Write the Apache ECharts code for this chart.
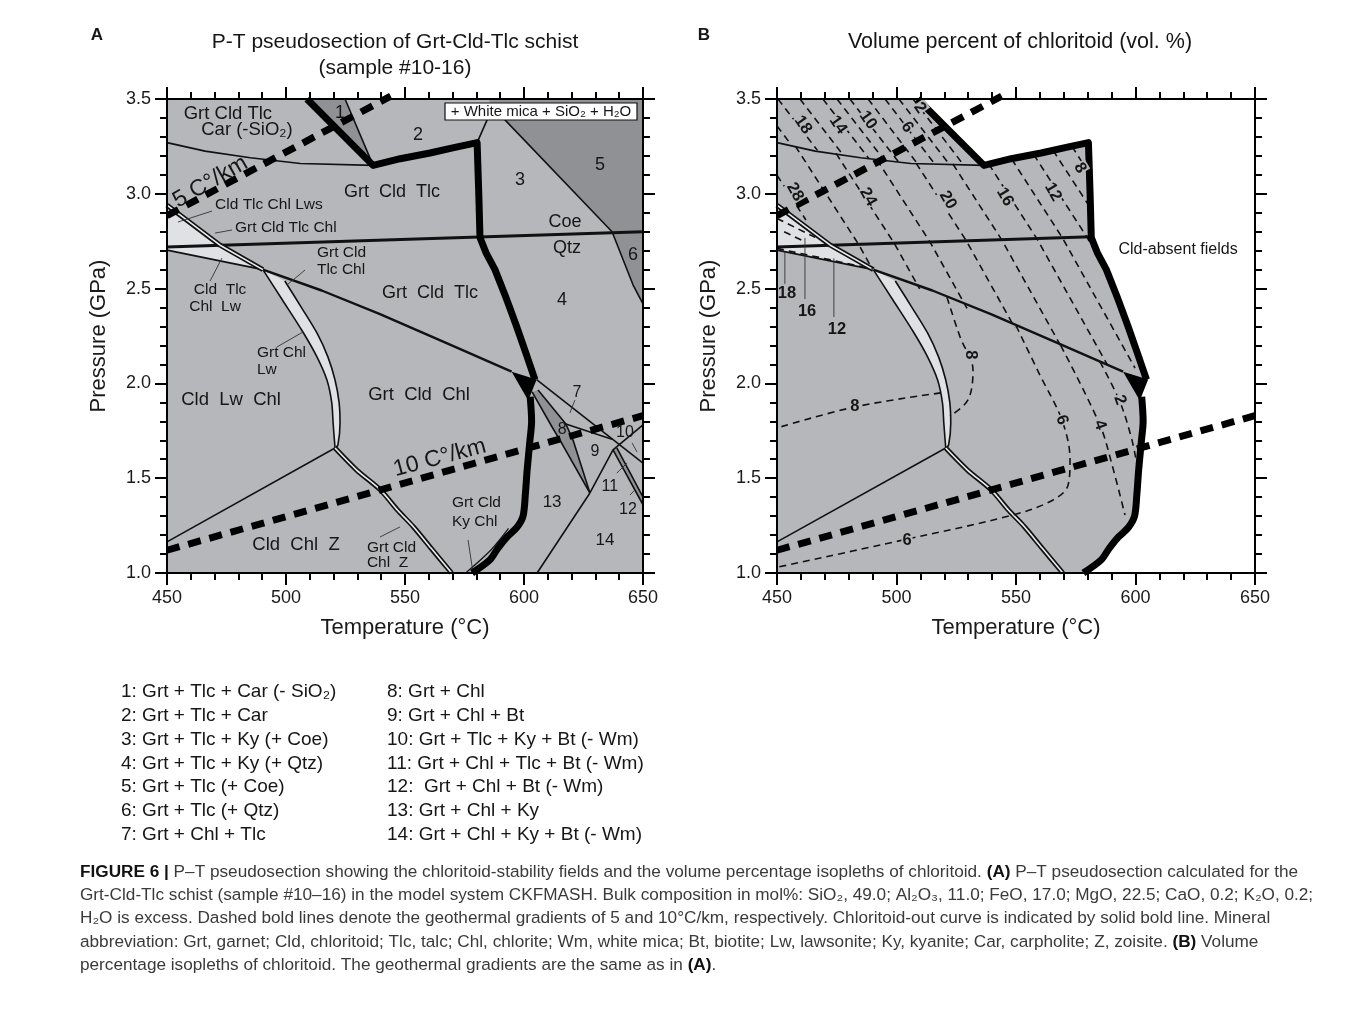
<!DOCTYPE html>
<html><head><meta charset="utf-8">
<script src="https://cdn.jsdelivr.net/npm/echarts@6/dist/echarts.min.js"></script>
<style>html,body{margin:0;padding:0;background:#fff}#c{width:1357px;height:1017px}</style>
</head><body><div id="c"></div>
<script>
const FONT = '"Liberation Sans", Arial, Helvetica, sans-serif';
const GRAY = '#b5b7ba', DARK = '#8f9194', LIGHT = '#e0e1e5', INK = '#111';

// ---------- axes ----------
const tempRange = [450, 650], tempStep = 50;
const presRange = [1.0, 3.5], presStep = 0.5;

// ---------- phase boundaries [T (°C), P (GPa)] ----------
const plotFrame = [[450,1.0],[650,1.0],[650,3.5],[450,3.5]];
const carCurve = [[450,3.27],[466,3.225],[485,3.19],[506,3.16],[536.6,3.15]];
const cldOutUpper = [[508.8,3.5],[536.6,3.15],[548,3.185],[560.5,3.215],[571,3.245],[580.3,3.27],[581,3.0],[581.5,2.77],[584,2.69],[587.8,2.60],[592.5,2.45],[596.9,2.30],[600.8,2.16],[604.6,2.02]];
const cldOutTip = [[594.8,2.062],[605.3,2.02],[601.8,1.91]];
const cldOutLower = [[602.6,1.93],[603.2,1.80],[602.5,1.70],[601.3,1.54],[600.6,1.42],[599.6,1.30],[597,1.24],[592.9,1.19],[589,1.13],[585.7,1.07],[578.2,1.0]];
const region1 = [[508.8,3.5],[524.8,3.5],[536.6,3.15]];
const line1Bound = [[524.8,3.5],[536.6,3.15]];
const line2to3 = [[580.3,3.27],[584.5,3.39],[587,3.45]];
const line3to5 = [[587,3.45],[592,3.39],[637,2.80]];
const region5 = [[585,3.5],[650,3.5],[650,2.80],[637,2.80],[592,3.39],[587,3.45]];
const coeQtzA = [[450,2.72],[650,2.80]];
const coeQtzB = [[450,2.72],[581.5,2.773]];
const line4to6 = [[637,2.80],[645.8,2.52],[650,2.42]];
const region6 = [[637,2.80],[650,2.80],[650,2.42],[645.8,2.52]];
const lwsBoundary = [[450,2.94],[472.3,2.729],[490.3,2.60]];
const lensLeft = [[490.3,2.60],[498.5,2.44],[507.1,2.271],[513,2.14],[517.2,2.018],[519.2,1.90],[519.8,1.79],[520.6,1.659]];
const lensRight = [[499.5,2.54],[506.5,2.40],[513,2.266],[517.6,2.14],[520.6,2.018],[522.3,1.90],[522.7,1.79],[521.8,1.675],[520.6,1.659]];
const lwsTri = [[450,2.94],[472.3,2.729],[450,2.72]];
const lwWedge = [[450,2.72],[472.3,2.729],[490.3,2.60],[450,2.703]];
const lwLower = [[450,2.703],[490.3,2.60]];
const longLine = [[490.3,2.60],[515,2.49],[539.5,2.365],[567,2.215],[594.8,2.062]];
const lowerLeft = [[520.6,1.659],[450,1.164]];
const zoisiteDouble = [[520.6,1.659],[529.7,1.543],[539.5,1.44],[547,1.33],[553.5,1.244],[561,1.13],[569.6,1.0]];
const line7Upper = [[605.3,2.02],[650,1.58]];
const line8Left = [[603.4,1.955],[611.8,1.770],[615.1,1.701],[627.7,1.422]];
const line8Right = [[605.9,1.965],[617.6,1.786],[620.6,1.701],[627.7,1.422]];
const line7Lower = [[617.6,1.786],[629,1.738],[637,1.705]];
const line9to13 = [[627.7,1.422],[637.4,1.649],[650,1.781]];
const line11 = [[637.4,1.649],[650,1.36]];
const line12 = [[639,1.66],[650,1.40]];
const region12 = [[637.4,1.649],[639,1.66],[650,1.40],[650,1.36]];
const line13to14 = [[627.7,1.422],[605.5,1.0]];
const kySliver = [[593.5,1.235],[586,1.12],[575.5,1.0]];

// geothermal gradients
const geotherm5 = [[450,2.885],[544,3.515]];
const geotherm10 = [[450,1.12],[650,1.83]];

// leader lines (panel A)
const leadersA = [
  [[468.9,2.909],[454.6,2.851]],
  [[477.3,2.809],[470.2,2.793]],
  [[508,2.598],[500.4,2.519]],
  [[468.1,2.54],[473.1,2.661]],
  [[496.2,2.192],[507.1,2.271]],
  [[621.4,1.912],[619.3,1.844]],
  [[576.5,1.174],[578.6,1.0]],
  [[539.5,1.19],[547.9,1.243]],
  [[639,1.527],[643.3,1.58]],
  [[644.5,1.411],[646.6,1.438]],
  [[645.4,1.686],[647.5,1.638]]
];

// ---------- chloritoid isopleths (vol.%) panel B ----------
const isoAboveCar = [
  [[450,3.358],[456.2,3.254]],
  [[450.4,3.5],[466.9,3.229]],
  [[459.6,3.5],[477.6,3.205]],
  [[469.2,3.5],[488.5,3.185]],
  [[475.1,3.5],[494.9,3.177]],
  [[480.5,3.5],[500.8,3.169]],
  [[488.1,3.5],[508.7,3.159]],
  [[495.2,3.5],[516.0,3.157]],
  [[501.0,3.5],[522.0,3.157]],
  [[506.9,3.5],[527.9,3.155]]
];
const isoBand = [
  [[450,3.098],[462.1,2.862]],
  [[457.7,3.251],[484.2,2.732],[490.0,2.600]],
  [[474.7,3.213],[499.1,2.738],[509.7,2.498]],
  [[491.8,3.180],[514.1,2.744],[529.5,2.396]],
  [[508.2,3.162],[529.3,2.750],[549.5,2.293]],
  [[523.6,3.157],[544.1,2.756],[568.9,2.194]],
  [[538.6,3.157],[558.8,2.762],[588.3,2.096]],
  [[548.2,3.183],[569.5,2.766],[599.8,2.081]],
  [[557.4,3.207],[579.7,2.771],[587.4,2.596]],
  [[565.5,3.229],[580.6,2.936]],
  [[573.4,3.25],[580.3,3.115]]
];
const isoWedge = [
  [[450,2.87],[466,2.77]],
  [[450,2.712],[486,2.615]],
  [[453,2.80],[462,2.745]]
];
const iso8Right = [[521.1,2.455],[526.6,2.245],[532.0,2.071],[529.9,1.913],[522.4,1.828]];
const iso8Left = [[518.5,1.95],[482.6,1.876],[450,1.765]];
const iso6 = [[550.0,2.305],[560.0,2.044],[569.2,1.807],[572.6,1.596],[571.8,1.464],[565.5,1.385],[548.7,1.306],[502.7,1.174],[450,1.03]];
const iso4 = [[568.7,2.20],[585.1,1.781],[590.2,1.570],[595.6,1.306]];
const iso2 = [[585.1,2.115],[593.5,1.902],[598.5,1.702],[600.6,1.570]];
const leadersB = [
  [[453.3,2.693],[453.3,2.525]],
  [[461.7,2.767],[461.7,2.445]],
  [[473.8,2.66],[473.8,2.35]]
];

// ---------- text labels [T, P, text, size, rotation°, align] ----------
const labelsA = [
  [475.6,3.421,'Grt Cld Tlc',18.5],
  [483.6,3.336,'Car (-SiO₂)',18.5],
  [522.7,3.426,'1',18],
  [555.5,3.31,'2',18],
  [598.3,3.073,'3',18],
  [631.9,3.152,'5',18],
  [544.5,3.009,'Grt  Cld  Tlc',18],
  [617.2,2.851,'Coe',18],
  [618.1,2.714,'Qtz',18],
  [645.8,2.677,'6',18],
  [470.2,2.941,'Cld Tlc Chl Lws',15.5,0,'left'],
  [478.6,2.82,'Grt Cld Tlc Chl',15.5,0,'left'],
  [513.0,2.688,'Grt Cld',15.5,0,'left'],
  [513.0,2.598,'Tlc Chl',15.5,0,'left'],
  [472.3,2.493,'Cld  Tlc',15.5],
  [470.2,2.403,'Chl  Lw',15.5],
  [560.5,2.477,'Grt  Cld  Tlc',18],
  [616.0,2.44,'4',18],
  [487.8,2.16,'Grt Chl',15.5,0,'left'],
  [487.8,2.07,'Lw',15.5,0,'left'],
  [476.9,1.912,'Cld  Lw  Chl',18.5],
  [555.9,1.939,'Grt  Cld  Chl',18.5],
  [622.3,1.949,'7',16],
  [616,1.754,'8',16],
  [629.8,1.638,'9',16],
  [642.4,1.738,'10',16],
  [636.1,1.454,'11',16],
  [643.7,1.332,'12',16],
  [611.8,1.374,'13',17],
  [634,1.174,'14',17],
  [569.7,1.369,'Grt Cld',15.5,0,'left'],
  [569.7,1.269,'Ky Chl',15.5,0,'left'],
  [504.2,1.148,'Cld  Chl  Z',18.5],
  [534.0,1.132,'Grt Cld',15.5,0,'left'],
  [534.0,1.053,'Chl  Z',15.5,0,'left'],
  [468.2,3.062,'5 C°/km',23,30],
  [564.6,1.607,'10 C°/km',23,15]
];
const isoLabelsB = [
  [460.9,3.363,'18',16.5,-55],[475.5,3.363,'14',16.5,-55],[488.1,3.389,'10',16.5,-55],
  [504.4,3.352,'6',16.5,-55],[509.8,3.453,'2',16.5,-55],
  [457.5,3.010,'28',16.5,-60],[488.1,2.983,'24',16.5,-60],[521.5,2.967,'20',16.5,-60],
  [545.4,2.983,'16',16.5,-60],[565.5,3.010,'12',16.5,-60],[576.8,3.136,'8',16.5,-60],
  [454.2,2.477,'18',16.5,0],[462.6,2.377,'16',16.5,0],[475.1,2.282,'12',16.5,0],
  [530.8,2.15,'8',16.5,-90],[482.6,1.876,'8',16.5,0],[504.4,1.174,'6',16.5,0],
  [569.2,1.807,'6',16.5,-70],[585.1,1.781,'4',16.5,-70],[593.5,1.913,'2',16.5,-70]
];
const labelsB = [
  [617.8,2.704,'Cld-absent fields',16]
];
const legendLeft = ['1: Grt + Tlc + Car (- SiO₂)','2: Grt + Tlc + Car','3: Grt + Tlc + Ky (+ Coe)','4: Grt + Tlc + Ky (+ Qtz)','5: Grt + Tlc (+ Coe)','6: Grt + Tlc (+ Qtz)','7: Grt + Chl + Tlc'];
const legendRight = ['8: Grt + Chl','9: Grt + Chl + Bt','10: Grt + Tlc + Ky + Bt (- Wm)','11: Grt + Chl + Tlc + Bt (- Wm)','12:  Grt + Chl + Bt (- Wm)','13: Grt + Chl + Ky','14: Grt + Chl + Ky + Bt (- Wm)'];
const captionLines = [
  '{b|FIGURE 6 |} P–T pseudosection showing the chloritoid-stability fields and the volume percentage isopleths of chloritoid. {b|(A)} P–T pseudosection calculated for the',
  'Grt-Cld-Tlc schist (sample #10–16) in the model system CKFMASH. Bulk composition in mol%: SiO₂, 49.0; Al₂O₃, 11.0; FeO, 17.0; MgO, 22.5; CaO, 0.2; K₂O, 0.2;',
  'H₂O is excess. Dashed bold lines denote the geothermal gradients of 5 and 10°C/km, respectively. Chloritoid-out curve is indicated by solid bold line. Mineral',
  'abbreviation: Grt, garnet; Cld, chloritoid; Tlc, talc; Chl, chlorite; Wm, white mica; Bt, biotite; Lw, lawsonite; Ky, kyanite; Car, carpholite; Z, zoisite. {b|(B)} Volume',
  'percentage isopleths of chloritoid. The geothermal gradients are the same as in {b|(A)}.'
];

// ---------- build ----------
const series = [];
const AX_A = {x:0, y:0}, AX_B = {x:2, y:2};
function addLine(pts, ax, style, z, smooth) {
  series.push({type:'line', xAxisIndex:ax.x, yAxisIndex:ax.y, data:pts, symbol:'none', showSymbol:false,
    smooth: smooth || false, lineStyle:Object.assign({cap:'butt', join:'round'}, style), z:z, silent:true, animation:false, clip:false});
}
function addPolys(polys, ax, fill, z) {
  series.push({type:'custom', coordinateSystem:'cartesian2d', xAxisIndex:ax.x, yAxisIndex:ax.y,
    data: polys.map(p => [p[0][0], p[0][1]]), z:z, silent:true, animation:false, clip:false,
    renderItem: (params, api) => ({type:'polygon', shape:{points: polys[params.dataIndex].map(q => api.coord(q))}, style:{fill:fill}})
  });
}
function addTexts(items, ax, opts, z) {
  series.push({type:'custom', coordinateSystem:'cartesian2d', xAxisIndex:ax.x, yAxisIndex:ax.y,
    data: items.map(it => [it[0], it[1]]), z:z, silent:true, animation:false, clip:false,
    renderItem: (params, api) => {
      const it = items[params.dataIndex];
      const c = api.coord([it[0], it[1]]);
      const st = {text: it[2], fontSize: it[3], fontFamily: FONT, fontWeight: opts.weight || 'normal', fill: '#161616',
        align: it[5] || 'center', verticalAlign: 'middle'};
      if (opts.bg) { st.backgroundColor = opts.bg; st.padding = [0, 1]; }
      return {type:'text', x:c[0], y:c[1], rotation:(it[4] || 0) * Math.PI / 180, style: st};
    }
  });
}
const thin = {color:INK, width:1.6};
const dashIso = {color:INK, width:1.6, type:[7,5]};
const geoStyle = {color:'#000', width:7, type:[13,9]};
const leaderStyle = {color:'#333', width:0.9};
function addDouble(pts, ax, z, smooth) {
  addLine(pts, ax, {color:INK, width:5}, z, smooth);
  addLine(pts, ax, {color:'#ececef', width:1.6}, z, smooth);
}

// ----- Panel A -----
addPolys([plotFrame], AX_A, GRAY, 1);
addPolys([region1, region5, region6, [...line8Left, ...line8Right.slice(0,-1).reverse()], region12], AX_A, DARK, 2);
addPolys([lwsTri, lwWedge, [...lensLeft, ...lensRight.slice().reverse()]], AX_A, LIGHT, 2);
[carCurve, line1Bound, line2to3, line3to5, line4to6, lwLower, lowerLeft, line7Upper, line8Left, line8Right, line7Lower, line9to13, line11, line12, line13to14]
  .forEach(l => addLine(l, AX_A, thin, 3));
addLine(kySliver, AX_A, {color:INK, width:1.2}, 3, 0.3);
addLine(lensLeft, AX_A, thin, 3, 0.3);
addLine(lensRight, AX_A, thin, 3, 0.3);
addLine(coeQtzA, AX_A, {color:INK, width:3}, 3);
addLine(longLine, AX_A, {color:INK, width:2.4}, 3);
addDouble(lwsBoundary, AX_A, 4);
addDouble(zoisiteDouble, AX_A, 4, 0.3);
leadersA.forEach(l => addLine(l, AX_A, leaderStyle, 4));
addLine(cldOutUpper, AX_A, {color:'#000', width:7}, 6);
addLine(cldOutLower, AX_A, {color:'#000', width:7}, 6, 0.3);
addPolys([cldOutTip], AX_A, '#000', 6);
addLine(geotherm5, AX_A, geoStyle, 7);
addLine(geotherm10, AX_A, geoStyle, 7);
addTexts(labelsA, AX_A, {}, 8);

// ----- Panel B -----
const cldField = [[450,3.5], ...cldOutUpper, ...cldOutLower, [450,1.0]];
addPolys([cldField], AX_B, GRAY, 1);
addPolys([lwsTri, lwWedge, [...lensLeft, ...lensRight.slice().reverse()]], AX_B, LIGHT, 2);
[carCurve, lwLower, lowerLeft].forEach(l => addLine(l, AX_B, thin, 3));
addLine(lensLeft, AX_B, thin, 3, 0.3);
addLine(lensRight, AX_B, thin, 3, 0.3);
addLine(coeQtzB, AX_B, {color:INK, width:3}, 3);
addLine(longLine, AX_B, {color:INK, width:2.4}, 3);
addDouble(lwsBoundary, AX_B, 4);
addDouble(zoisiteDouble, AX_B, 4, 0.3);
[...isoAboveCar, ...isoBand, ...isoWedge].forEach(l => addLine(l, AX_B, dashIso, 5));
[iso8Right, iso8Left, iso6, iso4, iso2].forEach(l => addLine(l, AX_B, dashIso, 5, 0.35));
leadersB.forEach(l => addLine(l, AX_B, leaderStyle, 5));
addLine(cldOutUpper, AX_B, {color:'#000', width:7}, 6);
addLine(cldOutLower, AX_B, {color:'#000', width:7}, 6, 0.3);
addPolys([cldOutTip], AX_B, '#000', 6);
addLine(geotherm5, AX_B, geoStyle, 7);
addLine(geotherm10, AX_B, geoStyle, 7);
addTexts(isoLabelsB, AX_B, {weight:'bold', bg:GRAY}, 8);
addTexts(labelsB, AX_B, {}, 8);

// ----- axes -----
function mkX(grid, pos, labels) {
  return {type:'value', gridIndex:grid, position:pos, min:tempRange[0], max:tempRange[1], interval:tempStep, z:9,
    axisLine:{show:true, onZero:false, lineStyle:{color:'#000', width:2}},
    axisTick:{show:true, inside:false, length:12, lineStyle:{color:'#000', width:2}},
    minorTick:{show:true, splitNumber:5, length:7, lineStyle:{color:'#000', width:2}},
    splitLine:{show:false}, minorSplitLine:{show:false},
    axisLabel:{show:labels, margin:16, fontSize:18, color:'#1a1a1a', fontFamily:FONT},
    name: labels ? 'Temperature (°C)' : '', nameLocation:'middle', nameGap:44,
    nameTextStyle:{fontSize:22, color:'#1a1a1a', fontFamily:FONT}};
}
function mkY(grid, pos, labels) {
  return {type:'value', gridIndex:grid, position:pos, min:presRange[0], max:presRange[1], interval:presStep, z:9,
    axisLine:{show:true, onZero:false, lineStyle:{color:'#000', width:2}},
    axisTick:{show:true, inside:false, length:12, lineStyle:{color:'#000', width:2}},
    minorTick:{show:true, splitNumber:5, length:7, lineStyle:{color:'#000', width:2}},
    splitLine:{show:false}, minorSplitLine:{show:false},
    axisLabel:{show:labels, margin:16, fontSize:18, color:'#1a1a1a', fontFamily:FONT, formatter:v => v.toFixed(1)},
    name: labels ? 'Pressure (GPa)' : '', nameLocation:'middle', nameGap:57, nameRotate:90,
    nameTextStyle:{fontSize:22, color:'#1a1a1a', fontFamily:FONT}};
}

// ----- graphic (titles, legend, caption) -----
const graphic = [];
function gText(x, y, text, size, extra) {
  graphic.push({type:'text', x:x, y:y, silent:true, z:100,
    style:Object.assign({text:text, fontSize:size, fontFamily:FONT, fill:'#161616', align:'left', verticalAlign:'middle'}, extra || {})});
}
gText(97, 35, 'A', 17, {fontWeight:'bold', align:'center'});
gText(704, 35, 'B', 17, {fontWeight:'bold', align:'center'});
gText(395, 42, 'P-T pseudosection of Grt-Cld-Tlc schist', 21, {align:'center'});
gText(395, 68, '(sample #10-16)', 21, {align:'center'});
gText(1020, 42, 'Volume percent of chloritoid (vol. %)', 21.5, {align:'center'});
graphic.push({type:'rect', x:445, y:103, z:100, silent:true, shape:{width:192, height:17}, style:{fill:'#fff', stroke:'#111', lineWidth:1.2}});
gText(541, 112, '+ White mica + SiO₂ + H₂O', 15, {align:'center'});
legendLeft.forEach((t, i) => gText(121, 692 + i * 23.8, t, 19));
legendRight.forEach((t, i) => gText(387, 692 + i * 23.8, t, 19));
captionLines.forEach((t, i) => gText(80, 872 + i * 23.3, t, 17.2, {fill:'#3a3a3a',
  rich:{b:{fontWeight:'bold', fontSize:17.2, fontFamily:FONT, fill:'#111'}}}));

const chart = echarts.init(document.getElementById('c'), null, {renderer:'canvas'});
chart.setOption({
  animation:false,
  backgroundColor:'#fff',
  grid:[{left:167, top:99, width:476, height:474}, {left:777, top:99, width:478, height:474}],
  xAxis:[mkX(0,'bottom',true), mkX(0,'top',false), mkX(1,'bottom',true), mkX(1,'top',false)],
  yAxis:[mkY(0,'left',true), mkY(0,'right',false), mkY(1,'left',true), mkY(1,'right',false)],
  series: series,
  graphic: graphic
});
</script></body></html>
